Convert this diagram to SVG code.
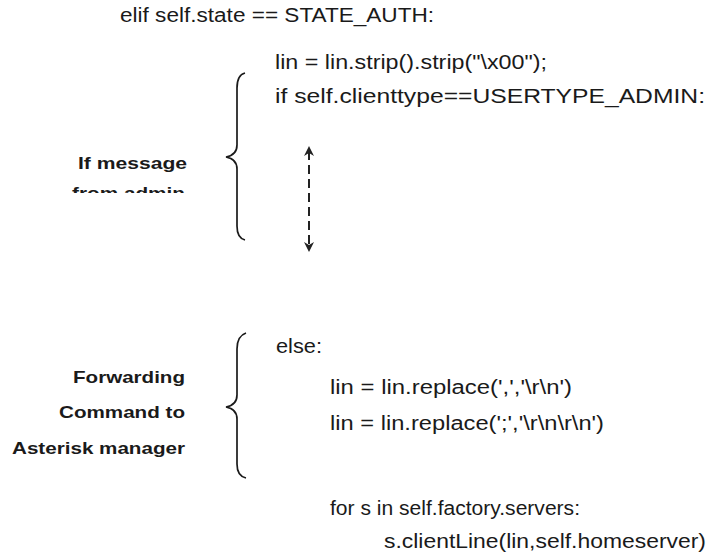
<svg xmlns="http://www.w3.org/2000/svg" width="710" height="558" viewBox="0 0 710 558">
<defs>
<style>
.code{font-family:"Liberation Sans Narrow","Liberation Sans",Arial,sans-serif;font-size:20px;fill:#1a1a1a}
.lbl{font-family:"Liberation Sans",Arial,sans-serif;font-size:17px;font-weight:bold;fill:#1a1a1a;text-anchor:end}
.brace{fill:none;stroke:#1a1a1a;stroke-width:1.7}
.dash{fill:none;stroke:#222;stroke-width:2;stroke-dasharray:9,5}
</style>
<marker id="ah" viewBox="0 0 10 10" refX="5" refY="5" markerWidth="5" markerHeight="5" orient="auto-start-reverse">
<path d="M0,0 L10,5 L0,10 L3,5 z" fill="#222"/>
</marker>
<clipPath id="clipAdmin"><rect x="0" y="187" width="250" height="6"/></clipPath>
</defs>
<rect width="710" height="558" fill="#fff"/>
<g id="code">
<text class="code" x="120" y="22" textLength="314" lengthAdjust="spacingAndGlyphs">elif self.state == STATE_AUTH:</text>
<text class="code" x="275" y="69" textLength="272" lengthAdjust="spacingAndGlyphs">lin = lin.strip().strip("\x00");</text>
<text class="code" x="275" y="103" textLength="430" lengthAdjust="spacingAndGlyphs">if self.clienttype==USERTYPE_ADMIN:</text>
<text class="code" x="276" y="353" textLength="46" lengthAdjust="spacingAndGlyphs">else:</text>
<text class="code" x="330" y="394" textLength="242" lengthAdjust="spacingAndGlyphs">lin = lin.replace(',','\r\n')</text>
<text class="code" x="330" y="430" textLength="274" lengthAdjust="spacingAndGlyphs">lin = lin.replace(';','\r\n\r\n')</text>
<text class="code" x="330" y="515" textLength="250" lengthAdjust="spacingAndGlyphs">for s in self.factory.servers:</text>
<text class="code" x="384" y="548" textLength="322" lengthAdjust="spacingAndGlyphs">s.clientLine(lin,self.homeserver)</text>
</g>
<g id="admin-label">
<text class="lbl" x="187" y="169" textLength="109" lengthAdjust="spacingAndGlyphs">If message</text>
<text class="lbl" x="185" y="199" textLength="113" lengthAdjust="spacingAndGlyphs" clip-path="url(#clipAdmin)">from admin</text>
</g>
<g id="forward-label">
<text class="lbl" x="185" y="383" textLength="112" lengthAdjust="spacingAndGlyphs">Forwarding</text>
<text class="lbl" x="185" y="418" textLength="126" lengthAdjust="spacingAndGlyphs">Command to</text>
<text class="lbl" x="185" y="454" textLength="173" lengthAdjust="spacingAndGlyphs">Asterisk manager</text>
</g>
<g id="brace-admin">
<path class="brace" d="M245,73 Q237,75 237,88 L237,145 Q237,155 226,157 Q237,159 237,169 L237,226 Q237,238 245,240"/>
</g>
<g id="brace-forward">
<path class="brace" d="M246,333 Q237,336 237,349 L237,395 Q237,405 226,407 Q237,409 237,419 L237,464 Q237,476 246,478"/>
</g>
<g id="connectors">
<line class="dash" x1="309" y1="151" x2="309" y2="247" marker-start="url(#ah)" marker-end="url(#ah)"/>
</g>
</svg>
